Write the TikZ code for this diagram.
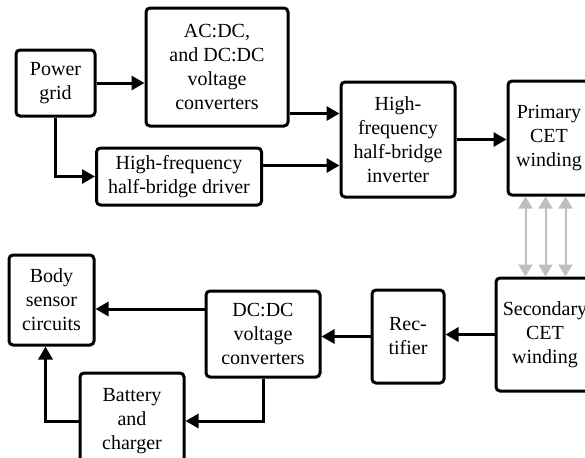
\documentclass[tikz,border=0pt]{standalone}
\usepackage{fontspec}
\setmainfont{Liberation Serif}
\usetikzlibrary{arrows.meta}

\begin{document}
\begin{tikzpicture}[x=0.5pt, y=-0.5pt, line width=1.5pt,
    font=\fontsize{10}{12}\selectfont,
    blk/.style={draw, rounded corners=2pt, align=center, inner sep=0pt},
    arr/.style={-{Triangle[length=6.5pt,width=7pt]}},
    cet/.style={{Triangle[length=6pt,width=7pt]}-{Triangle[length=6pt,width=7pt]},
                draw=black!25, line width=1pt}]
  \clip (0,0) rectangle (585,457);

  % transmitter side
  \node[blk, minimum width=39.5pt, minimum height=33pt] (grid) at (55.5,83) {Power\\grid};
  \node[blk, minimum width=71pt, minimum height=59pt] (acdc) at (217,67)
        {AC:DC,\\and DC:DC\\voltage\\converters};
  \node[blk, minimum width=82.5pt, minimum height=28.5pt] (driver) at (179,176.5)
        {High-frequency\\half-bridge driver};
  \node[blk, minimum width=57pt, minimum height=57.5pt] (inverter) at (398,139.5)
        {High-\\frequency\\half-bridge\\inverter};
  \node[blk, minimum width=41pt, minimum height=57pt] (primary) at (549,138)
        {Primary\\CET\\winding};

  % receiver side
  \node[blk, minimum width=49pt, minimum height=56.5pt] (secondary) at (545,334.5)
        {Secondary\\CET\\winding};
  \node[blk, minimum width=36pt, minimum height=46.5pt] (rectifier) at (408,336.5) {Rec-\\tifier};
  \node[blk, minimum width=57pt, minimum height=43pt] (dcdc) at (263,334)
        {DC:DC\\voltage\\converters};
  \node[blk, minimum width=42.5pt, minimum height=45pt] (body) at (51.5,300)
        {Body\\sensor\\circuits};
  \node[blk, minimum width=52pt, minimum height=48pt] (battery) at (132,421)
        {Battery\\and\\charger};

  % connectors
  \coordinate (acdcout) at ([yshift=7pt]acdc.south east);
  \coordinate (drvout) at ([yshift=-9.5pt]driver.north east);
  \coordinate (dcdcout) at ([yshift=12.5pt]dcdc.west);
  \draw[arr] (grid.east) -- (grid.east -| acdc.west);
  \draw[arr] (grid.south) |- (driver.west);
  \draw[arr] (acdcout) -- (acdcout -| inverter.west);
  \draw[arr] (drvout) -- (drvout -| inverter.west);
  \draw[arr] (inverter.east) -- (inverter.east -| primary.west);
  \foreach \dx in {9.5,19.5,29.5}
    \draw[cet] ([xshift=\dx pt]primary.south west) -- ([xshift=\dx pt]primary.south west |- secondary.north);
  \draw[arr] (secondary.west) -- (secondary.west -| rectifier.east);
  \draw[arr] (rectifier.west) -- (rectifier.west -| dcdc.east);
  \draw[arr] (dcdcout) -- (dcdcout -| body.east);
  \draw[arr] (dcdc.south) |- (battery.east);
  \draw[arr] (battery.west) -| ([xshift=-3pt]body.south);
\end{tikzpicture}
\end{document}
